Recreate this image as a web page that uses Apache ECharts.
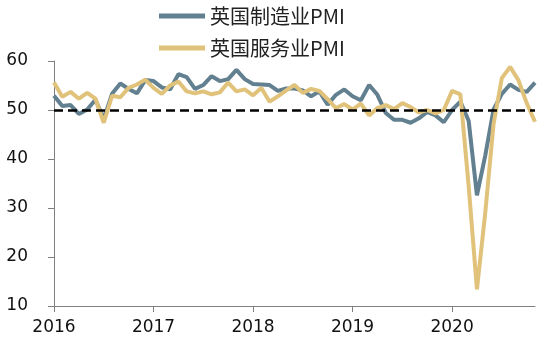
<!DOCTYPE html>
<html>
<head>
<meta charset="utf-8">
<script src="https://cdn.jsdelivr.net/npm/echarts@6/dist/echarts.min.js"></script>
<style>
    html, body { margin: 0; padding: 0; background: #fff; }
    #chart { width: 553px; height: 352px; }
</style>
</head>
<body>
<div id="chart"></div>
<script>
// 英国制造业 / 服务业 PMI, 2016-01 ~ 2020-11
var months = [];
for (var y = 2016; y <= 2020; y++) {
    for (var m = 1; m <= 12; m++) {
        if (y === 2020 && m > 11) break;
        months.push(y + '-' + (m < 10 ? '0' + m : m));
    }
}

var manufacturing = [
    52.9, 50.8, 51.0, 49.2, 50.1, 52.1, 48.2, 53.3, 55.4, 54.3, 53.4, 56.1,
    55.9, 54.6, 54.2, 57.3, 56.7, 54.3, 55.1, 56.9, 55.9, 56.3, 58.2, 56.3,
    55.3, 55.2, 55.1, 53.9, 54.4, 54.4, 54.0, 52.8, 53.8, 51.1, 53.1, 54.2,
    52.8, 52.0, 55.1, 53.1, 49.4, 48.0, 48.0, 47.4, 48.3, 49.6, 48.9, 47.5,
    50.0, 51.7, 47.8, 32.6, 40.7, 50.1, 53.3, 55.2, 54.1, 53.7, 55.6
];

var services = [
    55.6, 52.7, 53.7, 52.3, 53.5, 52.3, 47.4, 52.9, 52.6, 54.5, 55.2, 56.2,
    54.5, 53.3, 55.0, 55.8, 53.8, 53.4, 53.8, 53.2, 53.6, 55.6, 53.8, 54.2,
    53.0, 54.5, 51.7, 52.8, 54.0, 55.1, 53.5, 54.3, 53.9, 52.2, 50.4, 51.2,
    50.1, 51.3, 48.9, 50.4, 51.0, 50.2, 51.4, 50.6, 49.5, 50.0, 49.3, 50.0,
    53.9, 53.2, 34.5, 13.4, 29.0, 47.1, 56.5, 58.8, 56.1, 51.4, 47.6
];

var yTicks = [10, 20, 30, 40, 50, 60];
var threshold = 50;

var axisFont = {
    fontFamily: 'DejaVu Sans',
    fontSize: 17,
    color: '#111'
};

var option = {
    backgroundColor: '#fff',
    animation: false,
    legend: {
        orient: 'vertical',
        left: 159,
        top: 6,
        padding: 0,
        itemWidth: 46,
        itemHeight: 5,
        itemGap: 12,
        icon: 'rect',
        textStyle: {
            fontFamily: 'Noto Sans CJK SC',
            fontSize: 20,
            color: '#222'
        },
        data: ['英国制造业PMI', '英国服务业PMI']
    },
    grid: {
        left: 54,
        right: 18,
        top: 61,
        bottom: 46
    },
    xAxis: {
        type: 'category',
        data: months,
        boundaryGap: false,
        axisLine: { lineStyle: { color: '#808080', width: 1 } },
        axisTick: {
            length: 6,
            lineStyle: { color: '#808080' },
            interval: function (i) { return i % 12 === 0; }
        },
        axisLabel: Object.assign({}, axisFont, {
            margin: 13,
            interval: function (i) { return i % 12 === 0; },
            formatter: function (v) { return v.slice(0, 4); }
        }),
        splitLine: { show: false }
    },
    yAxis: {
        type: 'value',
        min: yTicks[0],
        max: yTicks[yTicks.length - 1],
        interval: 10,
        axisLine: { show: true, lineStyle: { color: '#808080', width: 1 } },
        axisTick: { show: true, length: 6, lineStyle: { color: '#808080' } },
        axisLabel: Object.assign({}, axisFont, { margin: 26 }),
        splitLine: { show: false }
    },
    series: [
        {
            name: '英国制造业PMI',
            type: 'line',
            data: manufacturing,
            symbol: 'none',
            lineStyle: { color: '#62808f', width: 4 },
            itemStyle: { color: '#62808f' }
        },
        {
            name: '英国服务业PMI',
            type: 'line',
            data: services,
            symbol: 'none',
            lineStyle: { color: '#e0c27b', width: 4 },
            itemStyle: { color: '#e0c27b' },
            markLine: {
                silent: true,
                symbol: 'none',
                label: { show: false },
                lineStyle: { color: '#000', width: 2.5, type: [9, 5] },
                data: [{ yAxis: threshold }]
            }
        }
    ]
};

var myChart = echarts.init(document.getElementById('chart'));
myChart.setOption(option);
</script>
</body>
</html>
